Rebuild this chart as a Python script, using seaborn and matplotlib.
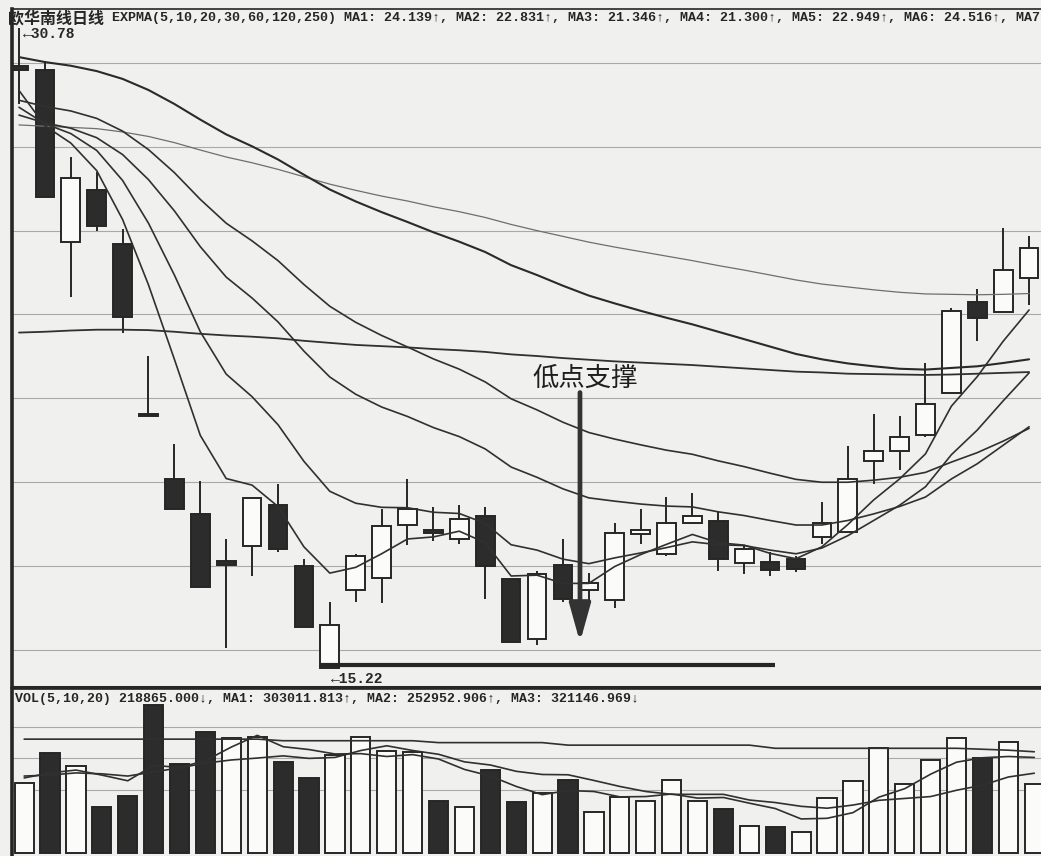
import numpy as np
import pandas as pd
import seaborn as sns
import matplotlib.pyplot as plt

# daily candles (price)
opens = [29.86, 29.76, 25.59, 26.85, 25.54, 21.39, 19.83, 18.96, 17.82, 18.18,
         19.18, 17.70, 15.22, 17.11, 17.40, 18.69, 18.57, 18.35, 18.93, 17.38,
         15.92, 17.72, 17.11, 16.87, 18.47, 17.99, 18.76, 18.79, 17.77, 17.79,
         17.87, 18.42, 18.52, 20.25, 20.49, 20.88, 21.90, 24.13, 23.89, 24.71]
highs = [30.78, 29.98, 27.65, 27.28, 25.90, 22.82, 20.66, 19.78, 18.35, 19.35,
         19.69, 17.87, 16.82, 17.99, 19.08, 19.83, 19.13, 19.18, 19.15, 17.38,
         17.57, 18.35, 17.53, 18.74, 19.10, 19.37, 19.49, 19.01, 18.21, 18.04,
         17.94, 19.25, 20.63, 21.39, 21.34, 22.65, 23.98, 24.44, 25.93, 25.73]
lows = [28.94, 26.68, 24.25, 25.85, 23.38, 21.34, 19.10, 17.19, 15.71, 17.45,
        18.04, 16.22, 15.22, 16.82, 16.80, 18.21, 18.30, 18.23, 16.90, 15.85,
        15.78, 16.82, 16.87, 16.68, 18.25, 17.94, 18.74, 17.57, 17.50, 17.45,
        17.55, 18.23, 18.52, 19.69, 20.03, 20.85, 21.90, 23.18, 23.89, 24.06]
closes = [29.76, 26.68, 27.14, 25.97, 23.76, 21.36, 19.10, 17.19, 17.72, 19.35,
          18.11, 16.22, 16.26, 17.94, 18.67, 19.08, 18.50, 18.84, 17.70, 15.85,
          17.50, 16.90, 17.28, 18.50, 18.57, 18.74, 18.93, 17.87, 18.11, 17.60,
          17.62, 18.74, 19.81, 20.51, 20.83, 21.65, 23.91, 23.74, 24.91, 25.44]

# EXPMA lines (5, 10, 20, 30, 60, 120, 250)
expma5 = [29.27, 28.41, 27.99, 27.32, 26.13, 24.54, 22.73, 20.88, 19.83, 19.67,
          19.15, 18.17, 17.53, 17.67, 18.00, 18.36, 18.41, 18.55, 18.27, 17.46,
          17.48, 17.28, 17.28, 17.69, 17.98, 18.23, 18.47, 18.27, 18.21, 18.01,
          17.88, 18.17, 18.71, 19.31, 19.82, 20.43, 21.59, 22.31, 23.17, 23.93]
expma10 = [28.86, 28.46, 28.22, 27.81, 27.08, 26.04, 24.78, 23.40, 22.37, 21.82,
           21.14, 20.25, 19.52, 19.23, 19.13, 19.12, 19.01, 18.98, 18.74, 18.22,
           18.09, 17.87, 17.76, 17.90, 18.02, 18.15, 18.29, 18.22, 18.20, 18.09,
           18.00, 18.14, 18.44, 18.81, 19.18, 19.63, 20.41, 21.01, 21.72, 22.40]
expma20 = [28.67, 28.48, 28.35, 28.12, 27.71, 27.10, 26.34, 25.47, 24.73, 24.22,
           23.64, 22.93, 22.30, 21.88, 21.57, 21.34, 21.07, 20.85, 20.55, 20.11,
           19.86, 19.58, 19.36, 19.28, 19.21, 19.16, 19.14, 19.02, 18.93, 18.81,
           18.70, 18.70, 18.81, 18.97, 19.15, 19.38, 19.82, 20.19, 20.64, 21.09]
expma30 = [29.03, 28.88, 28.77, 28.59, 28.28, 27.83, 27.27, 26.62, 26.04, 25.61,
           25.13, 24.55, 24.02, 23.63, 23.31, 23.03, 22.74, 22.49, 22.18, 21.77,
           21.50, 21.20, 20.95, 20.79, 20.65, 20.52, 20.42, 20.26, 20.12, 19.96,
           19.81, 19.74, 19.74, 19.79, 19.86, 19.98, 20.23, 20.46, 20.74, 21.05]
expma60 = [30.08, 29.96, 29.87, 29.74, 29.55, 29.28, 28.94, 28.56, 28.20, 27.91,
           27.59, 27.22, 26.86, 26.57, 26.31, 26.07, 25.82, 25.59, 25.34, 25.02,
           24.78, 24.52, 24.28, 24.09, 23.91, 23.74, 23.58, 23.40, 23.22, 23.04,
           22.86, 22.73, 22.63, 22.56, 22.50, 22.48, 22.52, 22.56, 22.64, 22.73]
expma120 = [28.43, 28.40, 28.37, 28.34, 28.26, 28.15, 28.00, 27.82, 27.65, 27.51,
            27.35, 27.17, 26.99, 26.84, 26.70, 26.58, 26.44, 26.32, 26.18, 26.01,
            25.86, 25.72, 25.58, 25.46, 25.35, 25.24, 25.13, 25.01, 24.90, 24.78,
            24.66, 24.56, 24.49, 24.42, 24.36, 24.32, 24.31, 24.30, 24.31, 24.33]
expma250 = [23.38, 23.40, 23.43, 23.45, 23.45, 23.44, 23.40, 23.35, 23.31, 23.28,
            23.24, 23.18, 23.13, 23.08, 23.05, 23.02, 22.98, 22.95, 22.91, 22.85,
            22.81, 22.76, 22.72, 22.68, 22.65, 22.62, 22.59, 22.55, 22.51, 22.47,
            22.43, 22.41, 22.38, 22.37, 22.36, 22.35, 22.36, 22.38, 22.40, 22.42]

# volume in thousand shares and its moving averages
volume_k = [223, 316, 276, 147, 182, 469, 282, 383, 364, 369,
            288, 237, 311, 369, 324, 321, 166, 145, 263, 161,
            191, 232, 129, 179, 165, 232, 166, 139, 87, 83,
            66, 174, 228, 332, 219, 295, 364, 300, 353, 219]
vol_ma5 = [238, 254, 263, 247, 229, 278, 271, 293, 336, 373,
           337, 328, 314, 315, 306, 312, 298, 265, 244, 211,
           185, 198, 195, 178, 179, 187, 174, 176, 158, 141,
           108, 110, 128, 177, 204, 250, 288, 302, 306, 303]
vol_ma10 = [244, 247, 254, 251, 244, 257, 270, 285, 295, 301,
            308, 300, 303, 325, 340, 325, 313, 289, 279, 259,
            249, 248, 230, 211, 195, 186, 186, 186, 168, 160,
            148, 142, 152, 167, 173, 179, 199, 215, 241, 253]
vol_ma20 = [361, 361, 361, 361, 361, 361, 361, 361, 361, 361,
            356, 356, 356, 356, 356, 356, 350, 350, 350, 350,
            350, 342, 342, 342, 342, 342, 342, 342, 342, 332,
            332, 332, 332, 332, 332, 332, 332, 329, 326, 321]

price_grid = [29.94, 27.90, 25.86, 23.82, 21.78, 19.74, 17.70, 15.66]
volume_grid = [200, 300, 400]

title_cn = "欧华南线日线"
expma_header = ("EXPMA(5,10,20,30,60,120,250) MA1: 24.139↑, MA2: 22.831↑, "
                "MA3: 21.346↑, MA4: 21.300↑, MA5: 22.949↑, MA6: 24.516↑, MA7")
vol_header = ("VOL(5,10,20) 218865.000↓, MA1: 303011.813↑, "
              "MA2: 252952.906↑, MA3: 321146.969↓")
note_text = "低点支撑"

sns.set_style("white")
plt.rcParams['font.family'] = ['Noto Sans CJK SC', 'DejaVu Sans']
mono = ['Liberation Mono', 'DejaVu Sans Mono']

W, H = 1041, 856
bg = '#f0f0ee'
ink = '#262626'
dark = '#2c2c2c'
paper = '#fbfbfa'


def px_box(x0, y0, x1, y1):
    return [x0 / W, 1 - y1 / H, (x1 - x0) / W, (y1 - y0) / H]


fig = plt.figure(figsize=(W / 100, H / 100), dpi=100)
fig.patch.set_facecolor(bg)
ax = fig.add_axes(px_box(12, 9, W, 687))
axv = fig.add_axes(px_box(12, 689, W, H))

df = pd.DataFrame(dict(x=np.arange(len(closes)), open=opens, high=highs,
                       low=lows, close=closes, vol=volume_k,
                       e5=expma5, e10=expma10, e20=expma20, e30=expma30,
                       e60=expma60, e120=expma120, e250=expma250,
                       v5=vol_ma5, v10=vol_ma10, v20=vol_ma20))

# ---- price panel ----
ax.set_facecolor(bg)
up = df.close >= df.open
body_lo = df[['open', 'close']].min(axis=1)
body_h = (df.close - df.open).abs().clip(lower=0.04)
ax.vlines(df.x, df.low, df.high, color=ink, lw=1.4, zorder=2)
ax.bar(df.x, body_h, bottom=body_lo, width=0.72,
       color=np.where(up, paper, dark), edgecolor=ink, linewidth=1.4, zorder=3)

line_styles = [('e250', 1.3, '#303030'), ('e120', 0.9, '#6e6e6e'),
               ('e60', 1.5, '#2a2a2a'), ('e30', 1.2, '#303030'),
               ('e20', 1.2, '#303030'), ('e10', 1.2, '#303030'),
               ('e5', 1.2, '#303030')]
for col, lw, color in line_styles:
    sns.lineplot(data=df, x='x', y=col, ax=ax, color=color, lw=lw, zorder=4)

# support line, arrow and note
i_low = int(np.argmin(lows))
ax.hlines(lows[i_low] + 0.07, i_low - 0.36, 29.2, color=ink, lw=3.0, zorder=5)
ax.annotate('', xy=(21.66, 15.78), xytext=(21.66, 21.99),
            arrowprops=dict(arrowstyle='-|>,head_length=1.15,head_width=0.32',
                            mutation_scale=20, lw=3.4, color='#333333'),
            zorder=6)
ax.text(21.85, 22.26, note_text, fontsize=19, ha='center', va='center',
        color='#1e1e1e')

ax.text(0.15, 30.64, '←30.78', family=mono, fontweight='bold', fontsize=10.5,
        ha='left', va='center', color=ink)
ax.text(i_low + 0.05, 14.95, '←15.22', family=mono, fontweight='bold',
        fontsize=10.5, ha='left', va='center', color=ink)

ax.set_xlim(-0.27, 39.46)
ax.set_ylim(14.76, 31.25)
ax.set_yticks(price_grid)
ax.yaxis.grid(True, color='#a9a9a9', lw=0.8)
ax.set_axisbelow(True)
ax.set_xticks([])
ax.set_yticklabels([])
ax.tick_params(length=0)
ax.set_xlabel('')
ax.set_ylabel('')
ax.spines['left'].set_linewidth(2.6)
ax.spines['top'].set_linewidth(1.2)
ax.spines['bottom'].set_linewidth(2.2)
ax.spines['right'].set_visible(False)
for s in ['left', 'top', 'bottom']:
    ax.spines[s].set_color(ink)

# ---- volume panel (bars sit a few pixels right of the candles) ----
axv.set_facecolor(bg)
vol_up = df.close.diff().fillna(0) >= 0
axv.bar(df.x, df.vol, width=0.74, color=np.where(vol_up, paper, dark),
        edgecolor=ink, linewidth=1.4, zorder=3)
for col in ['v20', 'v10', 'v5']:
    sns.lineplot(data=df, x='x', y=col, ax=axv, color='#303030', lw=1.2, zorder=4)
axv.set_xlim(-0.47, 39.26)
axv.set_ylim(-9.5, 520)
axv.set_yticks(volume_grid)
axv.yaxis.grid(True, color='#a9a9a9', lw=0.8)
axv.set_axisbelow(True)
axv.set_xticks([])
axv.set_yticklabels([])
axv.tick_params(length=0)
axv.set_xlabel('')
axv.set_ylabel('')
axv.spines['left'].set_linewidth(2.6)
axv.spines['left'].set_color(ink)
axv.spines['top'].set_linewidth(1.2)
axv.spines['top'].set_color(ink)
axv.spines['right'].set_visible(False)
axv.spines['bottom'].set_visible(False)

# headers
fig.text(8 / W, 1 - 18 / H, title_cn, fontsize=11.5, fontweight='bold',
         ha='left', va='center', color=ink)
fig.text(112 / W, 1 - 18 / H, expma_header, family=mono, fontweight='bold',
         fontsize=9.6, ha='left', va='center', color=ink)
fig.text(15 / W, 1 - 699 / H, vol_header, family=mono, fontweight='bold',
         fontsize=9.5, ha='left', va='center', color=ink)

fig.savefig('out.png', dpi=100, facecolor=bg)
